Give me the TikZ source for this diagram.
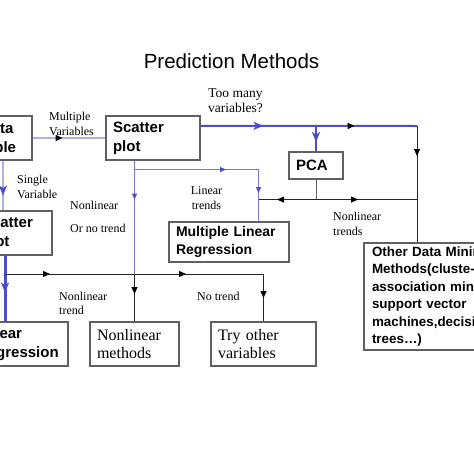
\documentclass[tikz,border=0pt]{standalone}
\usepackage{fontspec}
\setmainfont{Liberation Serif}
\setsansfont{Liberation Sans}
\usetikzlibrary{arrows.meta,decorations.markings,calc}

\definecolor{flowblue}{RGB}{76,76,208}
\definecolor{linkblue}{RGB}{118,118,220}
\definecolor{paleblue}{RGB}{176,176,222}
\definecolor{boxgray}{RGB}{96,96,96}

\tikzset{
  box/.style={draw=boxgray, line width=1.1pt, fill=white, inner xsep=7pt, inner ysep=0pt, align=left,
    font=\sffamily\bfseries\fontsize{15}{19}\selectfont},
  serifbox/.style={box, font=\fontsize{16}{18}\selectfont},
  lbl/.style={inner sep=0pt, font=\fontsize{12}{15}\selectfont},
  blkline/.style={draw=black!85, line width=0.9pt},
  blueline/.style={draw=flowblue, line width=2pt},
  thinblue/.style={draw=linkblue, line width=1pt},
  paleline/.style={draw=paleblue, line width=1.6pt},
  tipat/.style 2 args={postaction={decorate,decoration={markings,mark=at position #1 with {\arrow{#2}}}}},
  blktip/.tip={Triangle[length=7pt,width=6pt,color=black]},
  blutip/.tip={Stealth[length=10pt,width=8pt,inset=2.5pt,color=flowblue]},
  smallblu/.tip={Triangle[length=6pt,width=5pt,color=flowblue]}
}

\begin{document}
\begin{tikzpicture}[x=1pt,y=1pt,yscale=-1,xscale=1]
\useasboundingbox (0,0) rectangle (474,474);
\clip (0,0) rectangle (474,474);

% Text Node
\node (title) [anchor=base, inner sep=0pt, font=\sffamily\fontsize{20.5}{24}\selectfont] at (231.5,68) {Prediction Methods};

%Shape: Rectangle
\node (datatab) [box, text width=44pt, minimum height=44pt] at (3,138) {Data\\table};
%Shape: Rectangle
\node (scatter) [box, text width=80pt, minimum height=44pt] at (153,138) {Scatter\\plot};
%Shape: Rectangle
\node (pca) [box, text width=40pt, minimum height=27pt] at (316,165.5) {PCA};
%Shape: Rectangle
\node (scatterb) [box, text width=63pt, minimum height=44pt] at (13.5,233) {Scatter\\plot};
%Shape: Rectangle
\node (mlr) [box, text width=106pt, minimum height=40pt, font=\sffamily\bfseries\fontsize{14}{18}\selectfont] at (229,242) {Multiple Linear\\Regression};
%Shape: Rectangle
\node (linreg) [box, text width=84pt, minimum height=44pt] at (19,344) {Linear\\Regression};
%Shape: Rectangle
\node (nlmeth) [serifbox, text width=75pt, minimum height=44pt] at (134.5,344) {Nonlinear\\methods};
%Shape: Rectangle
\node (tryother) [serifbox, text width=91pt, minimum height=44pt] at (263.5,344) {Try other\\variables};
%Shape: Rectangle
\node (other) [box, inner xsep=8pt, text width=136pt, minimum height=107pt, font=\sffamily\bfseries\fontsize{13.4}{17.5}\selectfont] at (440,296.5) {Other Data Mining\\Methods(cluste-\\association mining,\\support vector\\machines,decision\\trees…)};

% Junctions
\coordinate (topout) at ($(scatter.north east)!0.23!(scatter.south east)$);
\coordinate (rail) at (417,126);
\coordinate (pcain) at (pca.north |- rail);
\coordinate (pcasplit) at ($(pca.south)+(0,20)$);
\coordinate (mlrin) at ($(mlr.north east)+(-31,0)$);
\coordinate (linkrow) at (pcasplit -| mlrin);
\coordinate (railrow) at (pcasplit -| rail);
\coordinate (trendfork) at (nlmeth.north |- scatter.south);
\coordinate (linbranch) at ($(trendfork)+(0,9)$);
\coordinate (trendrow) at (0,274);
\coordinate (nlfork) at (nlmeth.north |- trendrow);
\coordinate (trystart) at ($(datatab.south |- trendrow)+(2,0)$);

%Straight Lines
\draw [paleline, tipat={30pt}{blktip}] (datatab.east) -- (scatter.west);
%Straight Lines
\draw [blueline, tipat={63pt}{blutip}, tipat={154pt}{blktip}] (topout) -- (rail);
\draw [blkline, tipat={30pt}{blktip}] (rail) -- (rail |- other.north);
%Straight Lines
\draw [blueline, line width=2.2pt, tipat={16pt}{blutip}] (pcain) -- (pca.north);
\draw [draw=boxgray, line width=0.8pt] (pca.south) -- (pcasplit);
\draw [blkline, tipat={39pt}{blktip}] (pcasplit) -- (linkrow);
\draw [blkline, tipat={42pt}{blktip}] (pcasplit) -- (railrow);
%Straight Lines
\draw [thinblue, tipat={39pt}{smallblu}] (trendfork) -- (nlfork);
\draw [blkline, tipat={20pt}{blktip}] (nlfork) -- (nlmeth.north);
\draw [thinblue, tipat={91.5pt}{smallblu}, tipat={147.5pt}{smallblu}] (linbranch) -| (mlrin);
%Straight Lines
\draw [paleline, line width=2.5pt, tipat={35pt}{blutip}] (datatab.south) -- (datatab.south |- scatterb.north);
\draw [blueline, line width=3pt, tipat={37pt}{blutip}] ($(datatab.south |- scatterb.south)+(2,0)$) -- ($(datatab.south |- linreg.north)+(2,0)$);
\draw [blkline, tipat={45pt}{blktip}, tipat={181pt}{blktip}, tipat={282.5pt}{blktip}] (trystart) -| (tryother.north);

% Text Node
\node (manyA) [lbl, anchor=base, font=\fontsize{13.5}{16}\selectfont] at (235.5,97) {Too many};
\node (manyB) [lbl, anchor=base, font=\fontsize{13.5}{16}\selectfont] at (235.5,112) {variables?};
% Text Node
\node (multA) [lbl, anchor=base west] at (49,120) {Multiple};
\node (multB) [lbl, anchor=base west] at (49,135) {Variables};
% Text Node
\node (singA) [lbl, anchor=base west] at (17,183) {Single};
\node (singB) [lbl, anchor=base west] at (17,198) {Variable};
% Text Node
\node (nlnoA) [lbl, anchor=base west] at (70,209) {Nonlinear};
\node (nlnoB) [lbl, anchor=base west] at (70,232) {Or no trend};
% Text Node
\node (linA) [lbl, anchor=base] at (206.5,194) {Linear};
\node (linB) [lbl, anchor=base] at (206.5,209) {trends};
% Text Node
\node (nlrA) [lbl, anchor=base west] at (333,220) {Nonlinear};
\node (nlrB) [lbl, anchor=base west] at (333,235) {trends};
% Text Node
\node (nllA) [lbl, anchor=base west] at (59,300) {Nonlinear};
\node (nllB) [lbl, anchor=base west] at (59,314) {trend};
% Text Node
\node (notr) [lbl, anchor=base west] at (197,300) {No trend};

\end{tikzpicture}
\end{document}
